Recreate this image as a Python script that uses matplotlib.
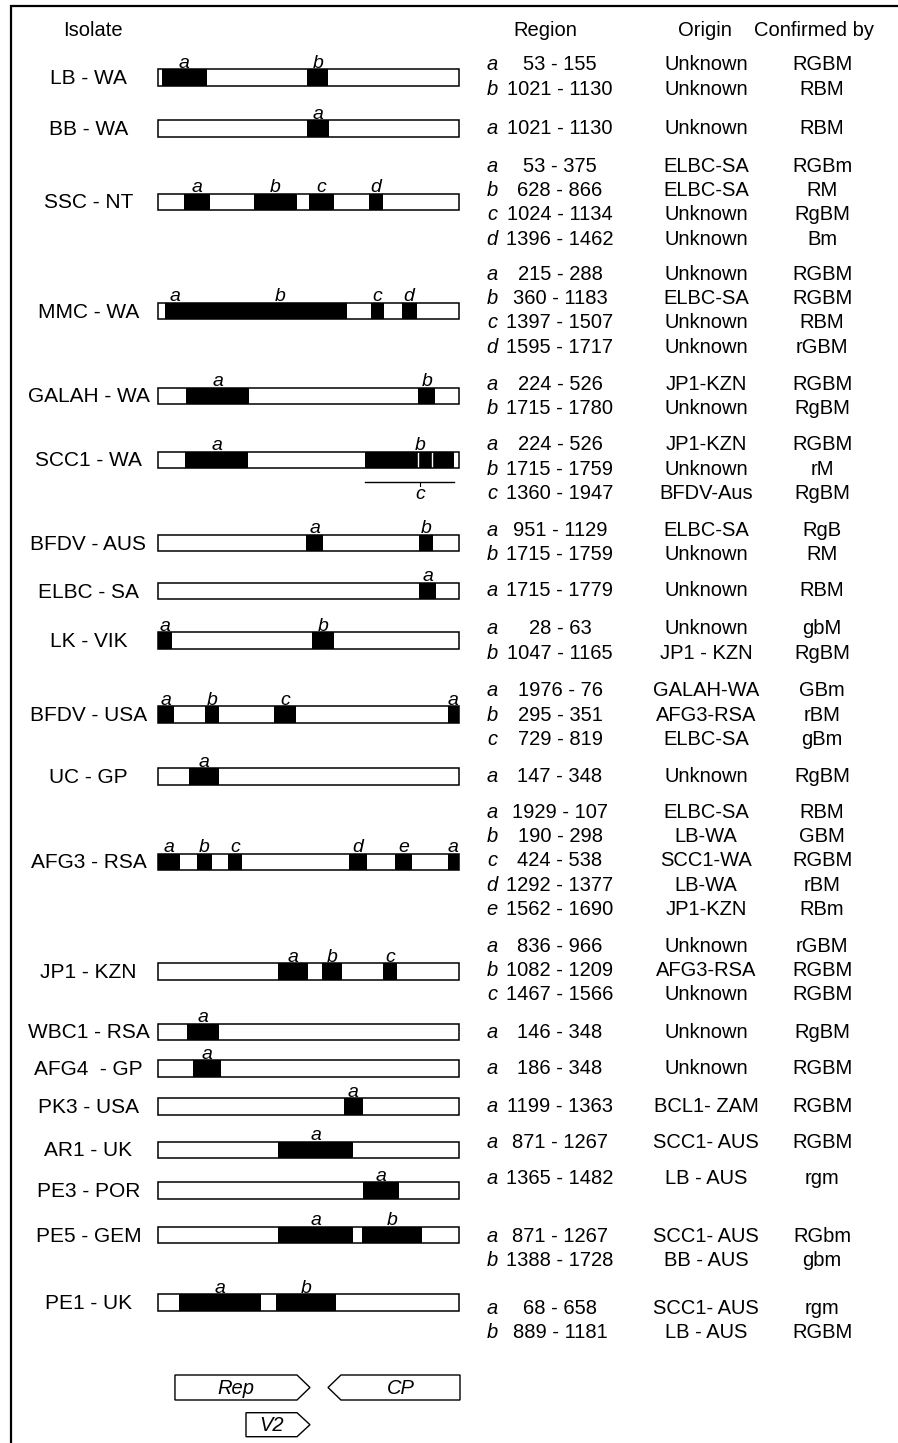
import matplotlib
matplotlib.use("Agg")
import matplotlib.pyplot as plt
from matplotlib.patches import Rectangle, Polygon

plt.rcParams['font.family'] = ['Liberation Sans', 'DejaVu Sans']

W, H = 898, 1443
GENOME = 2000  # genome length used for the drawn bars (nt)

isolates = ["LB - WA", "BB - WA", "SSC - NT", "MMC - WA", "GALAH - WA",
            "SCC1 - WA", "BFDV - AUS", "ELBC - SA", "LK - VIK", "BFDV - USA",
            "UC - GP", "AFG3 - RSA", "JP1 - KZN", "WBC1 - RSA", "AFG4  - GP",
            "PK3 - USA", "AR1 - UK", "PE3 - POR", "PE5 - GEM", "PE1 - UK"]

# recombinant blocks as drawn on the genome bars (approx. nt)
block_letters = [["a", "b"], ["a"], ["a", "b", "c", "d"], ["a", "b", "c", "d"],
                 ["a", "b"], ["a", "c", "b"], ["a", "b"], ["a"], ["a", "b"],
                 ["a", "b", "c", "a"], ["a"], ["a", "b", "c", "d", "e", "a"],
                 ["a", "b", "c"], ["a"], ["a"], ["a"], ["a"], ["a"],
                 ["a", "b"], ["a", "b"]]
block_start = [[28, 995], [995], [176, 641, 1009, 1405], [50, 182, 1417, 1623],
               [189, 1733], [183, 1379, 1733], [987, 1736], [1740], [5, 1029],
               [5, 316, 776, 1932], [211], [5, 260, 470, 1272, 1578, 1932],
               [803, 1095, 1496], [194], [238], [1241], [803], [1363],
               [803, 1357], [145, 787]]
block_end = [[327, 1135], [1140], [349, 925, 1173, 1500], [182, 1261, 1507, 1722],
             [610, 1844], [603, 1970, 1822], [1102, 1833], [1849], [98, 1173],
             [110, 409, 920, 2000], [411], [150, 364, 559, 1394, 1689, 2000],
             [1002, 1228, 1593], [411], [420], [1363], [1301], [1607],
             [1301, 1760], [686, 1186]]
label_override = {(3, 0): 116, (3, 1): 818, (5, 2): 1744}

# table on the right
tbl_letter = [["a", "b"], ["a"], ["a", "b", "c", "d"], ["a", "b", "c", "d"],
              ["a", "b"], ["a", "b", "c"], ["a", "b"], ["a"], ["a", "b"],
              ["a", "b", "c"], ["a"], ["a", "b", "c", "d", "e"], ["a", "b", "c"],
              ["a"], ["a"], ["a"], ["a"], ["a"], ["a", "b"], ["a", "b"]]
tbl_region = [["53 - 155", "1021 - 1130"], ["1021 - 1130"],
              ["53 - 375", "628 - 866", "1024 - 1134", "1396 - 1462"],
              ["215 - 288", "360 - 1183", "1397 - 1507", "1595 - 1717"],
              ["224 - 526", "1715 - 1780"],
              ["224 - 526", "1715 - 1759", "1360 - 1947"],
              ["951 - 1129", "1715 - 1759"], ["1715 - 1779"],
              ["28 - 63", "1047 - 1165"],
              ["1976 - 76", "295 - 351", "729 - 819"], ["147 - 348"],
              ["1929 - 107", "190 - 298", "424 - 538", "1292 - 1377", "1562 - 1690"],
              ["836 - 966", "1082 - 1209", "1467 - 1566"], ["146 - 348"],
              ["186 - 348"], ["1199 - 1363"], ["871 - 1267"], ["1365 - 1482"],
              ["871 - 1267", "1388 - 1728"], ["68 - 658", "889 - 1181"]]
tbl_origin = [["Unknown", "Unknown"], ["Unknown"],
              ["ELBC-SA", "ELBC-SA", "Unknown", "Unknown"],
              ["Unknown", "ELBC-SA", "Unknown", "Unknown"],
              ["JP1-KZN", "Unknown"], ["JP1-KZN", "Unknown", "BFDV-Aus"],
              ["ELBC-SA", "Unknown"], ["Unknown"], ["Unknown", "JP1 - KZN"],
              ["GALAH-WA", "AFG3-RSA", "ELBC-SA"], ["Unknown"],
              ["ELBC-SA", "LB-WA", "SCC1-WA", "LB-WA", "JP1-KZN"],
              ["Unknown", "AFG3-RSA", "Unknown"], ["Unknown"], ["Unknown"],
              ["BCL1- ZAM"], ["SCC1- AUS"], ["LB - AUS"],
              ["SCC1- AUS", "BB - AUS"], ["SCC1- AUS", "LB - AUS"]]
tbl_confirmed = [["RGBM", "RBM"], ["RBM"], ["RGBm", "RM", "RgBM", "Bm"],
                 ["RGBM", "RGBM", "RBM", "rGBM"], ["RGBM", "RgBM"],
                 ["RGBM", "rM", "RgBM"], ["RgB", "RM"], ["RBM"], ["gbM", "RgBM"],
                 ["GBm", "rBM", "gBm"], ["RgBM"],
                 ["RBM", "GBM", "RGBM", "rBM", "RBm"], ["rGBM", "RGBM", "RGBM"],
                 ["RgBM"], ["RGBM"], ["RGBM"], ["RGBM"], ["rgm"],
                 ["RGbm", "gbm"], ["rgm", "RGBM"]]

# open reading frames (legend)
genes = ["Rep", "CP", "V2"]
gene_start = [116, 1133, 588]
gene_end = [1013, 2010, 1013]
gene_forward = [True, False, True]

# layout (pixels)
bar_y = [77.5, 128.7, 202, 311, 396, 460, 543, 591, 640.7, 714.7, 776.3,
         862, 971.7, 1032, 1068.3, 1106.7, 1150, 1190.7, 1235, 1302.3]
tbl_y0 = [65, 129, 166, 274, 384, 445, 530, 591, 629, 691, 777, 812, 946,
          1032, 1069, 1106, 1143, 1179, 1236, 1308]
gene_y = [1387.5, 1387.5, 1424.7]
BAR_H = 16.5
LINE = 24.4
BAR_L, BAR_R = 157.5, 458.5

fig = plt.figure(figsize=(W / 100, H / 100), dpi=100)
ax = fig.add_axes([0, 0, 1, 1])
ax.set_xlim(0, W)
ax.set_ylim(H, 0)
ax.axis("off")

bx = fig.add_axes([BAR_L / W, 0, (BAR_R - BAR_L) / W, 1])
bx.set_xlim(0, GENOME)
bx.set_ylim(H, 0)
bx.axis("off")

# frame (only top and left edges fall inside the picture)
ax.plot([11, 11, W + 5], [H + 5, 6, 6], color="black", lw=1.6,
        solid_joinstyle="miter")

# headers
hdr = dict(fontsize=14.5, va="center", ha="center")
ax.text(93, 30, "Isolate", **hdr)
ax.text(545, 30, "Region", **hdr)
ax.text(705, 30, "Origin", **hdr)
ax.text(814, 30, "Confirmed by", **hdr)

for i, name in enumerate(isolates):
    y = bar_y[i]
    ax.text(88.5, y + 1, name, fontsize=15, ha="center", va="center")
    # genome bar
    bx.add_patch(Rectangle((0, y - BAR_H / 2), GENOME, BAR_H, fc="white",
                           ec="none", zorder=1))
    for j, let in enumerate(block_letters[i]):
        s, e = block_start[i][j], block_end[i][j]
        bx.add_patch(Rectangle((s, y - BAR_H / 2), e - s, BAR_H, fc="black",
                               ec="none", zorder=2))
        lx = label_override.get((i, j), (s + e) / 2)
        if i == 5 and let == "c":
            continue
        bx.text(lx, y - BAR_H / 2 - 1.5, let, fontsize=14, style="italic",
                ha="center", va="baseline", zorder=4)
    bx.add_patch(Rectangle((0, y - BAR_H / 2), GENOME, BAR_H, fill=False,
                           ec="black", lw=1.1, zorder=3, clip_on=False))
    # right table
    for k in range(len(tbl_letter[i])):
        ty = tbl_y0[i] + k * LINE
        ax.text(492, ty, tbl_letter[i][k], fontsize=14.5, style="italic",
                ha="center", va="center")
        ax.text(560, ty, tbl_region[i][k], fontsize=14.5, ha="center", va="center")
        ax.text(706, ty, tbl_origin[i][k], fontsize=14.5, ha="center", va="center")
        ax.text(822, ty, tbl_confirmed[i][k], fontsize=14.5, ha="center",
                va="center")

# SCC1 - WA: region b marked by thin white lines, region c underlined
i = isolates.index("SCC1 - WA")
y = bar_y[i]
for x in (block_start[i][2], block_end[i][2]):
    bx.plot([x, x], [y - BAR_H / 2 + 1, y + BAR_H / 2 - 1], color="white",
            lw=1.0, zorder=2.5)
cy = y + 22
bx.plot([block_start[i][1], block_end[i][1]], [cy, cy], color="black", lw=1.0)
bx.plot([1744, 1744], [cy, cy + 4], color="black", lw=0.8)
bx.text(1744, cy + 17, "c", fontsize=14, style="italic", ha="center",
        va="baseline")

# gene legend (arrows)
TIP = 86
for g, s, e, fwd, y in zip(genes, gene_start, gene_end, gene_forward, gene_y):
    h = 25 if g != "V2" else 24
    top, bot = y - h / 2, y + h / 2
    if fwd:
        pts = [(s, top), (e - TIP, top), (e, y), (e - TIP, bot), (s, bot)]
        cx = (s + e - TIP) / 2
    else:
        pts = [(s + TIP, top), (e, top), (e, bot), (s + TIP, bot), (s, y)]
        cx = (s + TIP + e) / 2
    bx.add_patch(Polygon(pts, closed=True, fc="white", ec="black", lw=1.0,
                         clip_on=False))
    bx.text(cx, y + 1, g, fontsize=14.5, style="italic", ha="center",
            va="center")

fig.savefig("out.png", dpi=100)
